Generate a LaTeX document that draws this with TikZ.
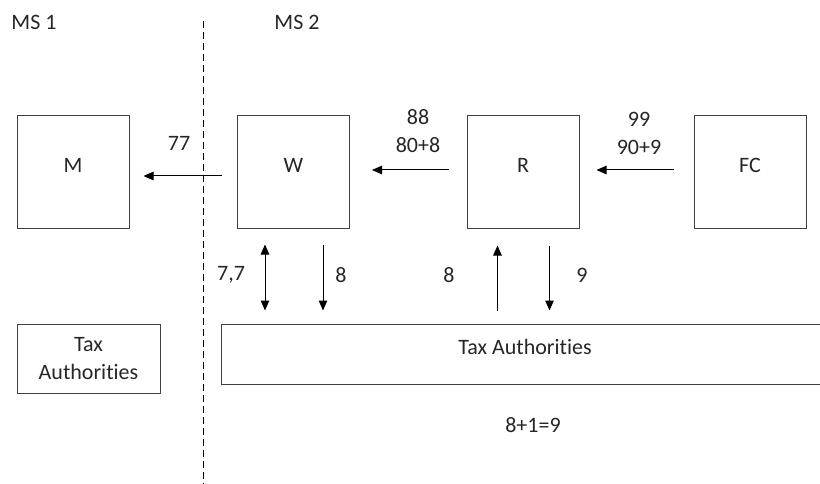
\documentclass[tikz,border=0pt]{standalone}
\usepackage{fontspec}
\setmainfont[Ligatures=NoCommon]{Carlito}
\usetikzlibrary{arrows.meta}
\begin{document}
\begin{tikzpicture}[x=1pt,y=-1pt,
  font=\fontsize{22}{28}\selectfont,
  every node/.style={text=black!85},
  box/.style={draw=black!75, line width=1pt, inner sep=0pt, text height=7.5pt, text depth=7.5pt},
  sq/.style={box, minimum width=112pt, minimum height=113pt},
  arr/.style={line width=1pt, -{Triangle[length=10pt,width=8.5pt]}},
  darr/.style={line width=1pt, {Triangle[length=10pt,width=8.5pt]}-{Triangle[length=10pt,width=8.5pt]}},
  lbl/.style={inner sep=0pt}]
\useasboundingbox (0,0) rectangle (820,484);
% boxes
\node[sq] (M)  at (73,172.5)  {M};
\node[sq] (W)  at (293.5,172.5) {W};
\node[sq] (R)  at (523,172.5) {R};
\node[sq] (FC) at (750,172.5) {FC};
\node[box, minimum width=143pt, minimum height=69pt, align=center, text height=, text depth=] (TL) at (88.5,358.5) {Tax\\Authorities};
\node[box, minimum width=608pt, minimum height=60pt] (TB) at (525,354) {Tax Authorities};
% dashed border
\coordinate (d1) at (203,21);
\coordinate (d2) at (203,484);
\draw[line width=1pt, dash pattern=on 7pt off 4pt] (d1) -- (d2);
% region labels
\node[lbl] (ms1) at (34,22) {MS 1};
\node[lbl] (ms2) at (297,22) {MS 2};
% horizontal arrows
\draw[arr, shorten <=15pt, shorten >=14pt] ([yshift=-3.5pt]W.west) -- ([yshift=-3.5pt]M.east);
\draw[arr, shorten <=18pt, shorten >=22pt] ([yshift=2.5pt]R.west) -- ([yshift=2.5pt]W.east);
\draw[arr, shorten <=20pt, shorten >=17pt] ([yshift=2.5pt]FC.west) -- ([yshift=2.5pt]R.east);
\node[lbl] (l77) at (179,143) {77};
\node[lbl] (l88) at (418,117) {88};
\node[lbl] (l808) at (418,145) {80+8};
\node[lbl] (l99) at (639,119) {99};
\node[lbl] (l909) at (639,147) {90+9};
% vertical arrows
\coordinate (w1) at ([xshift=28pt]W.south west);
\coordinate (w2) at ([xshift=86pt]W.south west);
\coordinate (r1) at ([xshift=31pt]R.south west);
\coordinate (r2) at ([xshift=83pt]R.south west);
\draw[darr, shorten <=15pt, shorten >=13pt] (w1) -- (w1 |- TB.north);
\draw[arr, shorten <=15pt, shorten >=13pt] (w2) -- (w2 |- TB.north);
\draw[arr, shorten <=13pt, shorten >=16pt] (r1 |- TB.north) -- (r1);
\draw[arr, shorten <=16pt, shorten >=13pt] (r2) -- (r2 |- TB.north);
\node[lbl] (l77b) at (231,275) {7,7};
\node[lbl] (l8a) at (341,275) {8};
\node[lbl] (l8b) at (449,275) {8};
\node[lbl] (l9) at (582,275) {9};
\node[lbl] (sum) at (533,425) {8+1=9};
\end{tikzpicture}
\end{document}
